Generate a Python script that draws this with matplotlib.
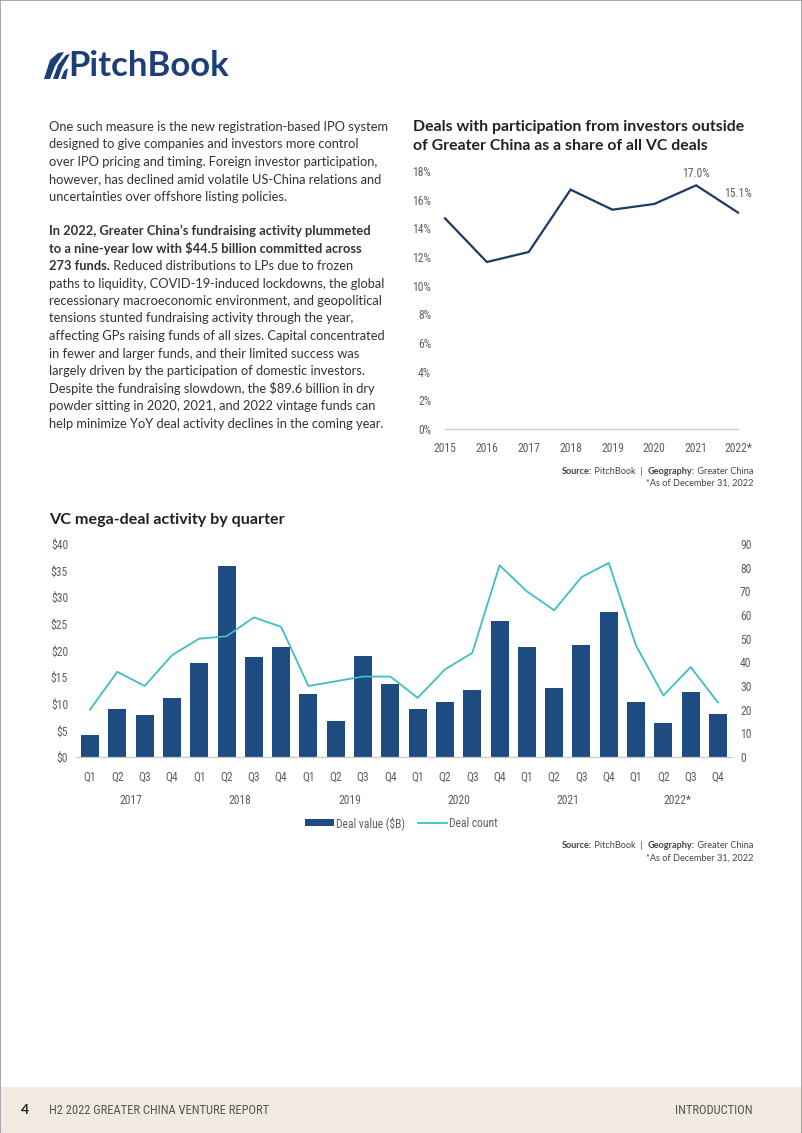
import matplotlib
matplotlib.use("Agg")
import matplotlib.pyplot as plt
from matplotlib.patches import Rectangle, Polygon
from matplotlib.lines import Line2D
import matplotlib.transforms as mtransforms
from matplotlib import font_manager as fm

# ---------------- data ----------------
share_years = [2015, 2016, 2017, 2018, 2019, 2020, 2021, 2022]
share_labels = ["2015", "2016", "2017", "2018", "2019", "2020", "2021", "2022*"]
share_values = [14.7, 11.65, 12.35, 16.7, 15.3, 15.7, 17.0, 15.1]
share_ticks = [0, 2, 4, 6, 8, 10, 12, 14, 16, 18]

quarters = ["Q1", "Q2", "Q3", "Q4"] * 6
years = ["2017", "2018", "2019", "2020", "2021", "2022*"]
deal_value = [4.2, 9.0, 7.8, 11.0, 17.7, 35.9, 18.8, 20.7,
              11.8, 6.7, 18.9, 13.7, 9.1, 10.4, 12.5, 25.6,
              20.6, 12.9, 21.0, 27.2, 10.4, 6.3, 12.2, 8.0]
deal_count = [20, 36, 30, 43, 50, 51, 59, 55,
              30, 32, 34, 34, 25, 37, 44, 81,
              70, 62, 76, 82, 47, 26, 38, 23]
value_ticks = [0, 5, 10, 15, 20, 25, 30, 35, 40]
count_ticks = [0, 10, 20, 30, 40, 50, 60, 70, 80, 90]

# ---------------- styles ----------------
W, H = 802, 1133
NAVY = "#1F4C80"
LINE_NAVY = "#1B3A66"
TEAL = "#3EBFC4"
GRAY = "#5F5F5F"
TXT = "#333333"
BODY = ["Lato", "DejaVu Sans"]


def pick_condensed():
    for fam in ["Liberation Sans Narrow", "Roboto Condensed", "Open Sans Condensed"]:
        try:
            fm.findfont(fm.FontProperties(family=fam), fallback_to_default=False)
            return {"family": [fam, "DejaVu Sans"], "stretch": "normal"}, True
        except Exception:
            pass
    try:
        path = fm.findfont(fm.FontProperties(family="DejaVu Sans", stretch="condensed"),
                           fallback_to_default=False)
        if "Condensed" in path:
            return {"family": ["DejaVu Sans"], "stretch": "condensed"}, True
    except Exception:
        pass
    return {"family": ["Lato", "DejaVu Sans"], "stretch": "normal"}, False


COND, IS_COND = pick_condensed()
CSIZE = 8.4 if IS_COND else 7.6
FSIZE = 9.0 if IS_COND else 8.0

fig = plt.figure(figsize=(W / 100, H / 100), dpi=100)
fig.patch.set_facecolor("white")


def fx(x):
    return x / W


def fy(y):
    return 1 - y / H


renderer = fig.canvas.get_renderer()


def runs(x, y, parts, size, family, color, align="left"):
    """Draw a sequence of (text, weight) runs on one line."""
    widths = []
    objs = []
    for s, w in parts:
        t = fig.text(0, fy(y), s, fontsize=size, fontweight=w, family=family,
                     color=color, va="center", ha="left")
        bb = t.get_window_extent(renderer=renderer)
        widths.append(bb.width)
        objs.append(t)
    total = sum(widths)
    cur = x if align == "left" else x - total
    for t, wdt in zip(objs, widths):
        t.set_x(fx(cur))
        cur += wdt


def cond_text(x, y, s, ha="left", color=GRAY, size=None, **kw):
    return fig.text(fx(x), fy(y), s, fontsize=size or CSIZE, family=COND["family"],
                    fontstretch=COND["stretch"], color=color, va="center", ha=ha, **kw)


def style_labels(labels):
    for lab in labels:
        lab.set_family(COND["family"])
        lab.set_fontstretch(COND["stretch"])


# page border
fig.add_artist(Rectangle((0, 0), 1, 1, transform=fig.transFigure, fill=False,
                         edgecolor="#9A9A9A", linewidth=1.2))
# footer band
fig.add_artist(Rectangle((fx(1), 0), fx(800), fy(1087), transform=fig.transFigure,
                         facecolor="#F0EAE0", edgecolor="none"))
fig.text(fx(25), fy(1110), "4", fontsize=10, fontweight="bold", family=BODY,
         color="#222222", va="center", ha="center")
cond_text(49, 1110, "H2 2022 GREATER CHINA VENTURE REPORT", color="#555555",
          size=FSIZE)
cond_text(753, 1110, "INTRODUCTION", ha="right", color="#555555", size=FSIZE)

# logo
for pts in ([(44, 79), (50, 60), (58, 53), (64, 52), (55, 66), (50, 79)],
            [(53, 79), (58, 65), (66, 55), (70, 54), (62, 68), (58, 79)],
            [(61, 79), (64, 71), (68, 68), (66, 79)]):
    fig.add_artist(Polygon([(fx(a), fy(b)) for a, b in pts], closed=True,
                           transform=fig.transFigure, facecolor="#1C3F7A",
                           edgecolor="none"))
fig.text(fx(68), fy(66), "PitchBook", fontsize=25, fontweight="bold", family=BODY,
         color="#1C3F7A", va="center", ha="left")

# body text
p1 = ["One such measure is the new registration-based IPO system",
      "designed to give companies and investors more control",
      "over IPO pricing and timing. Foreign investor participation,",
      "however, has declined amid volatile US-China relations and",
      "uncertainties over offshore listing policies."]
bsize = 9.25
for i, line in enumerate(p1):
    fig.text(fx(49), fy(127 + i * 17.5), line, fontsize=bsize, family=BODY,
             color=TXT, va="center", ha="left")
p2 = [[("In 2022, Greater China\u2019s fundraising activity plummeted", "bold")],
      [("to a nine-year low with $44.5 billion committed across", "bold")],
      [("273 funds.", "bold"), (" Reduced distributions to LPs due to frozen", "normal")],
      [("paths to liquidity, COVID-19-induced lockdowns, the global", "normal")],
      [("recessionary macroeconomic environment, and geopolitical", "normal")],
      [("tensions stunted fundraising activity through the year,", "normal")],
      [("affecting GPs raising funds of all sizes. Capital concentrated", "normal")],
      [("in fewer and larger funds, and their limited success was", "normal")],
      [("largely driven by the participation of domestic investors.", "normal")],
      [("Despite the fundraising slowdown, the $89.6 billion in dry", "normal")],
      [("powder sitting in 2020, 2021, and 2022 vintage funds can", "normal")],
      [("help minimize YoY deal activity declines in the coming year.", "normal")]]
for i, parts in enumerate(p2):
    runs(49, 231 + i * 17.5, parts, bsize, BODY, TXT)

# ---------------- top chart ----------------
fig.text(fx(413), fy(127), "Deals with participation from investors outside",
         fontsize=11.4, fontweight="bold", family=BODY, color="#222222",
         va="center", ha="left")
fig.text(fx(413), fy(146), "of Greater China as a share of all VC deals",
         fontsize=11.4, fontweight="bold", family=BODY, color="#222222",
         va="center", ha="left")

ax1 = fig.add_axes([fx(445), fy(429), fx(738) - fx(445), fy(171) - fy(429)])
ax1.plot(share_years, share_values, color=LINE_NAVY, linewidth=1.6, clip_on=False,
         solid_joinstyle="miter")
ax1.set_xlim(2015, 2022)
ax1.set_ylim(0, 18)
ax1.set_yticks(share_ticks)
ax1.set_yticklabels([f"{v}%" for v in share_ticks])
ax1.set_xticks(share_years)
ax1.set_xticklabels(share_labels)
for s in ax1.spines.values():
    s.set_visible(False)
ax1.spines["bottom"].set_visible(True)
ax1.spines["bottom"].set_color("#C9C9C9")
ax1.spines["bottom"].set_linewidth(0.9)
ax1.tick_params(length=0, labelsize=CSIZE, labelcolor=GRAY)
ax1.tick_params(axis="y", pad=10)
ax1.tick_params(axis="x", pad=9)
style_labels(ax1.get_xticklabels() + ax1.get_yticklabels())
ax1.set_facecolor("none")
for idx, off in ((6, 4), (7, 8.7)):
    ax1.annotate(f"{share_values[idx]:.1f}%", (share_years[idx], share_values[idx]),
                 xytext=(0, off), textcoords="offset points",
                 ha="center", va="bottom", fontsize=CSIZE, family=COND["family"],
                 fontstretch=COND["stretch"], color=GRAY)

runs(753, 471, [("Source:", "bold"), (" PitchBook  |  ", "normal"),
                ("Geography:", "bold"), (" Greater China", "normal")],
     6.6, BODY, "#444444", align="right")
runs(753, 483, [("*As of December 31, 2022", "normal")], 6.6, BODY, "#444444",
     align="right")

# ---------------- bottom chart ----------------
fig.text(fx(49), fy(520), "VC mega-deal activity by quarter", fontsize=11.6,
         fontweight="bold", family=BODY, color="#222222", va="center", ha="left")

x = list(range(len(deal_value)))
xl, xr = 90 - 13.65, 718 + 13.65
ax2 = fig.add_axes([fx(xl), fy(757), fx(xr) - fx(xl), fy(544) - fy(757)])
ax2.bar(x, deal_value, width=0.66, color=NAVY, zorder=2)
ax2.set_xlim(-0.5, len(x) - 0.5)
ax2.set_ylim(0, 40)
ax2.set_yticks(value_ticks)
ax2.set_yticklabels([f"${v}" for v in value_ticks])
ax2.set_xticks(x)
ax2.set_xticklabels(quarters)
for s in ax2.spines.values():
    s.set_visible(False)
ax2.spines["bottom"].set_visible(True)
ax2.spines["bottom"].set_color("#C9C9C9")
ax2.spines["bottom"].set_linewidth(0.9)
ax2.tick_params(length=0, labelsize=CSIZE, labelcolor=GRAY)
ax2.tick_params(axis="y", pad=6)
ax2.tick_params(axis="x", pad=10)
style_labels(ax2.get_xticklabels() + ax2.get_yticklabels())

ax3 = ax2.twinx()
ax3.plot(x, deal_count, color=TEAL, linewidth=1.3, zorder=3)
ax3.set_ylim(0, 90)
ax3.set_yticks(count_ticks)
for s in ax3.spines.values():
    s.set_visible(False)
ax3.tick_params(length=0, labelsize=CSIZE, labelcolor=GRAY, pad=6)
style_labels(ax3.get_yticklabels())

trans = mtransforms.blended_transform_factory(ax2.transData, fig.transFigure)
for i, yr in enumerate(years):
    ax2.text(i * 4 + 1.5, fy(800), yr, transform=trans, ha="center", va="center",
             fontsize=CSIZE, family=COND["family"], fontstretch=COND["stretch"],
             color=GRAY)

handles = [Rectangle((0, 0), 1, 1, facecolor=NAVY, edgecolor="none"),
           Line2D([], [], color=TEAL, linewidth=1.3)]
leg = fig.legend(handles, ["Deal value ($B)", "Deal count"], loc="center",
                 bbox_to_anchor=(fx(401), fy(823)), ncol=2, frameon=False,
                 handlelength=2.5, handleheight=0.55, handletextpad=0.15,
                 columnspacing=1.1,
                 prop=fm.FontProperties(family=COND["family"], stretch=COND["stretch"],
                                        size=CSIZE))
for t in leg.get_texts():
    t.set_color(GRAY)

runs(753, 846, [("Source:", "bold"), (" PitchBook  |  ", "normal"),
                ("Geography:", "bold"), (" Greater China", "normal")],
     6.6, BODY, "#444444", align="right")
runs(753, 858, [("*As of December 31, 2022", "normal")], 6.6, BODY, "#444444",
     align="right")

fig.savefig("out.png", dpi=100)
